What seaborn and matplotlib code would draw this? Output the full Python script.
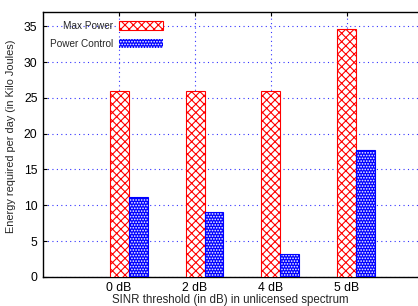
import matplotlib
matplotlib.use('Agg')

import matplotlib.pyplot as plt
import numpy as np
import pandas as pd
import seaborn as sns

sns.set_style("white")
plt.rcParams['font.family'] = ['Liberation Sans', 'DejaVu Sans']
plt.rcParams['hatch.linewidth'] = 0.8

# data
thresholds = ["0 dB", "2 dB", "4 dB", "5 dB"]
max_power = [26.0, 26.0, 26.0, 34.6]
power_control = [11.1, 9.0, 3.2, 17.7]
series = ["Max Power", "Power Control"]

df = pd.DataFrame({
    "threshold": thresholds * 2,
    "energy": max_power + power_control,
    "series": [series[0]] * 4 + [series[1]] * 4,
})

fig = plt.figure(figsize=(4.18, 3.06), dpi=100)
ax = fig.add_axes([0.103, 0.095, 0.897, 0.866])

sns.barplot(data=df, x="threshold", y="energy", hue="series", ax=ax,
            width=0.5, gap=0, legend=False, zorder=3,
            palette=["white", "blue"])

# style bars: red crosshatch / blue with white dots
n = len(thresholds)
for i, p in enumerate(ax.patches[:2 * n]):
    if i < n:
        p.set_facecolor("white")
        p.set_edgecolor("red")
        p.set_hatch("xxxx")
        p.set_linewidth(0.8)
    else:
        p.set_facecolor("blue")
        p.set_edgecolor("white")
        p.set_hatch("......")
        p.set_linewidth(0)
        outline = plt.Rectangle(p.get_xy(), p.get_width(), p.get_height(),
                                fill=False, edgecolor="blue", lw=0.8, zorder=4)
        ax.add_patch(outline)

ax.set_ylim(0, 37)
ax.set_xlim(-1.125, 3.81)
ax.set_yticks(range(0, 36, 5))
ax.set_xticks(np.arange(n) - 0.125)
ax.set_xticklabels(thresholds)

ax.grid(True, color="blue", linestyle=(0, (1, 3)), linewidth=0.8, alpha=0.8)
ax.set_axisbelow(True)

for s in ["left", "bottom", "top"]:
    ax.spines[s].set_color("black")
    ax.spines[s].set_linewidth(1.0)
ax.spines["right"].set_visible(False)
ax.tick_params(axis="both", direction="in", length=3, width=0.8,
               labelsize=8.7, colors="black", pad=4, top=True, left=True,
               bottom=False)

ax.set_xlabel("SINR threshold (in dB) in unlicensed spectrum", fontsize=8.3, labelpad=0)
ax.set_ylabel("Energy required per day (in Kilo Joules)", fontsize=7.9)
ax.yaxis.set_label_coords(-0.072, 0.53)

h1 = matplotlib.patches.Patch(facecolor="white", edgecolor="red", hatch="xxxx", lw=0.8)
h2 = matplotlib.patches.Patch(facecolor="blue", edgecolor="white", hatch="......", lw=0)
leg = ax.legend([h1, h2], series, loc="upper right",
                bbox_to_anchor=((163 - 43) / 375, (277 - 21) / 265),
                frameon=False, markerfirst=False, fontsize=7.2,
                handlelength=4.4, handleheight=0.9, labelspacing=0.8,
                handletextpad=0.6, borderaxespad=0, borderpad=0)

fig.savefig("out.png", dpi=100)
